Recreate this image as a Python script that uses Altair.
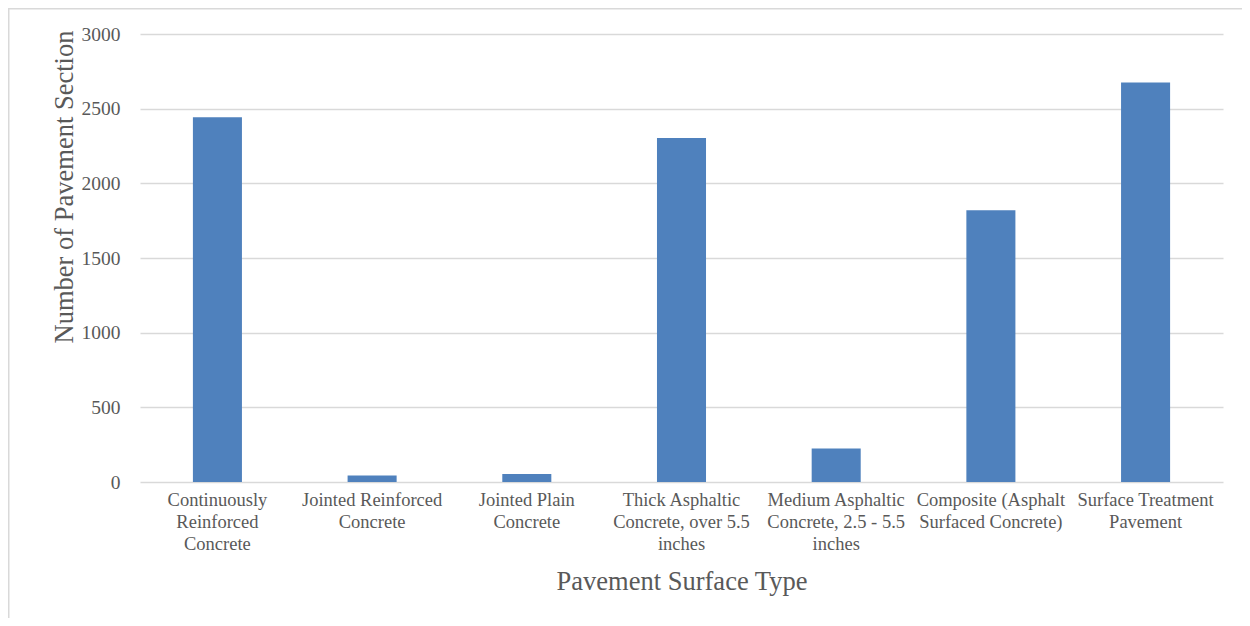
import altair as alt
import pandas as pd

categories = [
    "Continuously Reinforced Concrete",
    "Jointed Reinforced Concrete",
    "Jointed Plain Concrete",
    "Thick Asphaltic Concrete, over 5.5 inches",
    "Medium Asphaltic Concrete, 2.5 - 5.5 inches",
    "Composite (Asphalt Surfaced Concrete)",
    "Surface Treatment Pavement",
]
label_lines = [
    ["Continuously", "Reinforced", "Concrete"],
    ["Jointed Reinforced", "Concrete"],
    ["Jointed Plain", "Concrete"],
    ["Thick Asphaltic", "Concrete, over 5.5", "inches"],
    ["Medium Asphaltic", "Concrete, 2.5 - 5.5", "inches"],
    ["Composite (Asphalt", "Surfaced Concrete)"],
    ["Surface Treatment", "Pavement"],
]
counts = [2442, 43, 54, 2304, 224, 1820, 2675]
y_ticks = [0, 500, 1000, 1500, 2000, 2500, 3000]

df = pd.DataFrame({"type": categories, "count": counts})

def js_list(lines):
    return "[" + ",".join("'" + s + "'" for s in lines) + "]"

label_expr = ""
for c, lines in zip(categories, label_lines):
    label_expr += f"datum.value === '{c}' ? {js_list(lines)} : "
label_expr += "datum.label"

FONT = "Liberation Serif"
TXT = "#595959"
W, H = 1083, 448
PL, PT, PR, PB = 132, 26, 19, 136

bars = alt.Chart(df).mark_bar(color="#4F81BD").encode(
    x=alt.X(
        "type:N",
        sort=categories,
        scale=alt.Scale(paddingInner=0.683, paddingOuter=0.342),
        axis=alt.Axis(
            title="Pavement Surface Type",
            labelExpr=label_expr,
            labelAngle=0,
            labelFont=FONT,
            labelFontSize=18.5,
            labelColor=TXT,
            labelLineHeight=22,
            labelPadding=8,
            labelBaseline="top",
            ticks=False,
            tickSize=0,
            domain=False,
            titleFont=FONT,
            titleFontSize=26.5,
            titleFontWeight="normal",
            titleColor=TXT,
            titleY=107,
            titleBaseline="alphabetic",
        ),
    ),
    y=alt.Y(
        "count:Q",
        scale=alt.Scale(domain=[0, 3000], nice=False),
        axis=alt.Axis(
            title="Number of Pavement Section",
            values=y_ticks,
            format="d",
            labelFont=FONT,
            labelFontSize=19.5,
            labelColor=TXT,
            labelPadding=20,
            ticks=False,
            tickSize=0,
            domain=False,
            grid=True,
            gridColor="#d9d9d9",
            gridWidth=1.3,
            titleFont=FONT,
            titleFontSize=26.5,
            titleFontWeight="normal",
            titleColor=TXT,
            titleAngle=-90,
            titleX=-68,
            titleY=152.5,
            titleAlign="center",
            titleBaseline="alphabetic",
        ),
    ),
)

frame = alt.Data(values=[{"k": 1}])
top_line = alt.Chart(frame).mark_rule(color="#d9d9d9", strokeWidth=1.5).encode(
    x=alt.value(-PL), x2=alt.value(W + PR), y=alt.value(-PT + 0.75)
)
left_line = alt.Chart(frame).mark_rule(color="#d9d9d9", strokeWidth=1.5).encode(
    x=alt.value(-PL + 0.75), y=alt.value(-PT), y2=alt.value(H + PB)
)

chart = alt.layer(bars, top_line, left_line).properties(
    width=W,
    height=H,
    autosize=alt.AutoSizeParams(type="none"),
    padding={"left": PL, "top": PT, "right": PR, "bottom": PB},
    background="white",
).configure(font=FONT).configure_view(stroke=None).configure_axis(
    labelFont=FONT, titleFont=FONT
)

chart.save("out.html", embed_options={"renderer": "svg", "actions": False})
